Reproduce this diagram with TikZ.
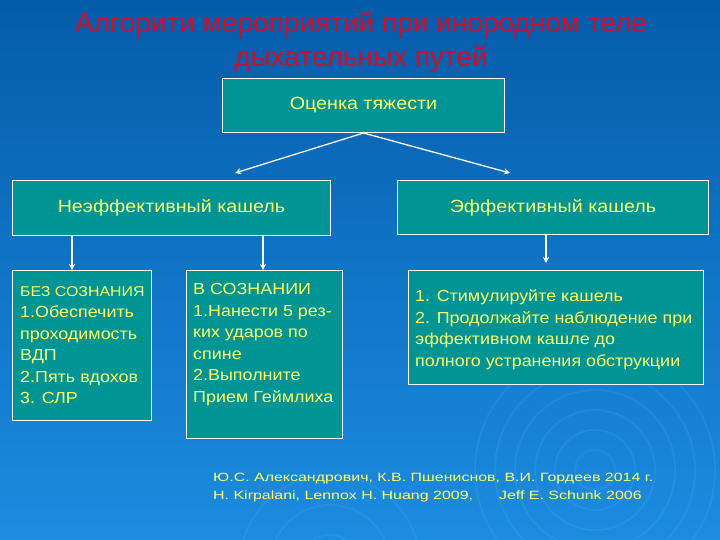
\documentclass[tikz,border=0pt]{standalone}
\usepackage{fontspec}
\setmainfont{Liberation Sans}
\newfontfamily\widefont[FakeStretch=1.12]{Liberation Sans}
\newfontfamily\citefont[FakeStretch=1.33]{Liberation Sans}
\usetikzlibrary{calc,arrows.meta}
\definecolor{bgtop}{RGB}{4,92,170}
\definecolor{bgbot}{RGB}{28,140,224}
\definecolor{teal1}{RGB}{0,148,148}
\definecolor{ttl}{RGB}{208,14,40}
\definecolor{txt}{RGB}{255,255,105}
\begin{document}
\begin{tikzpicture}[x=1pt,y=-1pt,
  box/.style={draw=white, line width=1pt, fill=teal1, inner sep=0pt, anchor=north west, text=txt},
  head/.style={font=\widefont\fontsize{17.6}{21}\selectfont},
  txtn/.style={text=txt, align=left, anchor=north west, inner sep=0pt},
  body/.style={font=\widefont\fontsize{16}{21.5}\selectfont},
  arr/.style={draw=white, line width=1.3pt, -{Stealth[length=6pt,width=6pt]}}]
% background
\shade[top color=bgtop, bottom color=bgbot] (0,0) rectangle (720,540);
\useasboundingbox (0,0) rectangle (720,540);
\begin{scope}[white, opacity=0.06, line width=2pt]
  \foreach \r in {20,40,60,80,100,120} { \draw (595,470) circle (\r); }
  \foreach \r in {30,60,90} { \draw (330,565) circle (\r); }
\end{scope}
% title
\node[text=ttl, font=\fontsize{28}{34}\selectfont, align=center, anchor=north, inner sep=0pt] (title) at (361,11.5)
  {Алгорити мероприятий при инородном теле\\дыхательных путей};
% boxes
\node[box, head, minimum width=282pt, minimum height=54pt] (ot) at (222,78) {Оценка тяжести};
\node[box, head, minimum width=318pt, minimum height=55pt] (ne) at (12,180) {Неэффективный кашель};
\node[box, head, minimum width=311pt, minimum height=54pt] (ef) at (397,180) {Эффективный кашель};
\node[box, minimum width=139pt, minimum height=150pt] (b1) at (12,270) {};
\node[box, minimum width=156pt, minimum height=168pt] (b2) at (186,270) {};
\node[box, minimum width=295pt, minimum height=114pt] (b3) at (408,270) {};
% texts
\node[txtn, body] (t1) at ($(b1.north west)+(8,16)$)
  {{\fontsize{14.2}{21.5}\selectfont БЕЗ СОЗНАНИЯ}\\1.Обеспечить\\проходимость\\ВДП\\2.Пять вдохов\\3. СЛР};
\node[txtn, body] (t2) at ($(b2.north west)+(7,13.2)$)
  {В СОЗНАНИИ\\1.Нанести 5 рез-\\ких ударов по\\спине\\2.Выполните\\Прием Геймлиха};
\node[txtn, body, font=\widefont\fontsize{16}{21.7}\selectfont] (t3) at ($(b3.north west)+(7,19.5)$)
  {1. Стимулируйте кашель\\2. Продолжайте наблюдение при\\эффективном кашле до\\полного устранения обструкции};
\node[txtn, font=\citefont\fontsize{12}{18}\selectfont] (cite) at (213,472.5)
  {Ю.С. Александрович, К.В. Пшениснов, В.И. Гордеев 2014 г.\\H. Kirpalani, Lennox H. Huang 2009,\hspace{26pt}Jeff E. Schunk 2006};
% connectors
\coordinate (a1) at (235,173);
\coordinate (a2) at (510,173);
\coordinate (a3) at (72,270);
\coordinate (a4) at (263,270);
\coordinate (a5) at (546,263);
\draw[arr] (ot.south) -- (a1);
\draw[arr] (ot.south) -- (a2);
\draw[arr] (ne.south -| a3) -- (a3);
\draw[arr] (ne.south -| a4) -- (a4);
\draw[arr] (ef.south -| a5) -- (a5);
\end{tikzpicture}
\end{document}
